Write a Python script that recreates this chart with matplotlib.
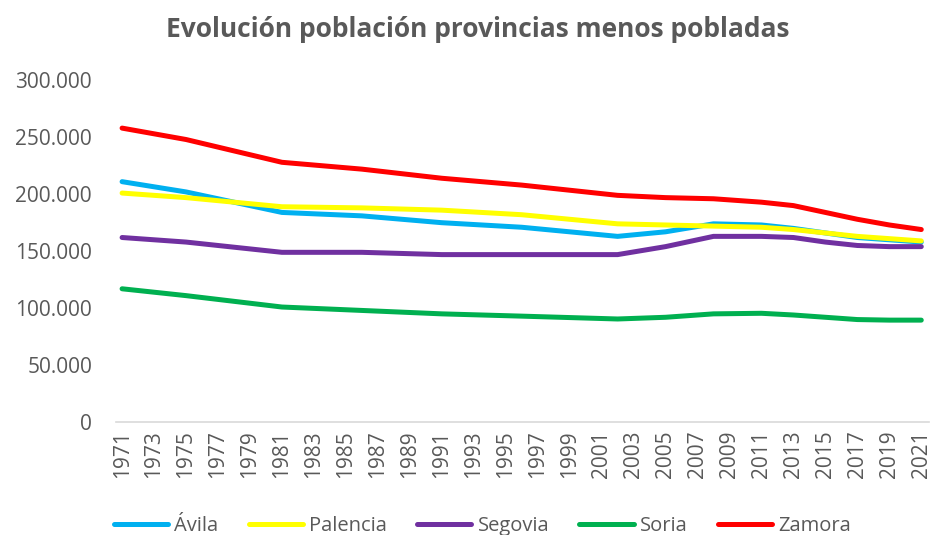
import matplotlib
matplotlib.use("Agg")
from matplotlib import pyplot as plt
from matplotlib.ticker import FuncFormatter

plt.rcParams['font.family'] = ['Open Sans', 'DejaVu Sans']

years = [1971, 1975, 1981, 1986, 1991, 1996, 2002, 2005, 2008, 2011, 2013, 2015, 2017, 2019, 2021]

avila = [211000, 202000, 184000, 181000, 175000, 171000, 163000, 167000, 174000, 173000, 170000, 166000, 162000, 160000, 158000]
palencia = [201000, 197000, 189000, 188000, 186000, 182000, 174000, 173000, 172000, 171000, 169000, 166000, 163000, 161000, 159000]
segovia = [162000, 158000, 149000, 149000, 147000, 147000, 147000, 154000, 163000, 163000, 162000, 158000, 155000, 154000, 154000]
soria = [117000, 111000, 101000, 98000, 95000, 93000, 90500, 92000, 95000, 95500, 94000, 92000, 90000, 89500, 89500]
zamora = [258000, 248000, 228000, 222000, 214000, 208000, 199000, 197000, 196000, 193000, 190000, 184000, 178000, 173000, 169000]

names = ["Ávila", "Palencia", "Segovia", "Soria", "Zamora"]
colors = ["#00B0F0", "#FFFF00", "#7030A0", "#00B050", "#FF0000"]
tick_years = list(range(1971, 2022, 2))

fig = plt.figure(figsize=(9.33, 5.35), dpi=100)
ax = fig.add_axes([0.124, 0.211, 0.872, 0.639])

for name, vals, c in zip(names, [avila, palencia, segovia, soria, zamora], colors):
    ax.plot(years, vals, color=c, lw=3.6, label=name, solid_capstyle='round', solid_joinstyle='round')

ax.set_xlim(1970.6, 2021.5)
ax.set_ylim(0, 300000)
ax.set_yticks(range(0, 300001, 50000))
ax.yaxis.set_major_formatter(FuncFormatter(lambda v, p: f"{int(v):,}".replace(",", ".")))
ax.set_xticks(tick_years)
ax.set_xticklabels([str(y) for y in tick_years], rotation=90)
ax.tick_params(length=0, colors="#595959")
ax.tick_params(axis='x', pad=6, labelsize=15)
ax.tick_params(axis='y', pad=17, labelsize=15)
for s in ["top", "right", "left"]:
    ax.spines[s].set_visible(False)
ax.spines["bottom"].set_color("#D9D9D9")
ax.spines["bottom"].set_linewidth(1.2)

fig.text(0.512, 0.944, "Evolución población provincias menos pobladas", ha="center", va="center",
         fontsize=19, fontweight="bold", color="#595959")

fig.legend(loc="lower center", bbox_to_anchor=(0.517, -0.036), ncol=5, frameon=False,
           fontsize=14.5, labelcolor="#595959", handlelength=2.7, handletextpad=0.3, columnspacing=1.5)

fig.savefig("out.png", dpi=100)
